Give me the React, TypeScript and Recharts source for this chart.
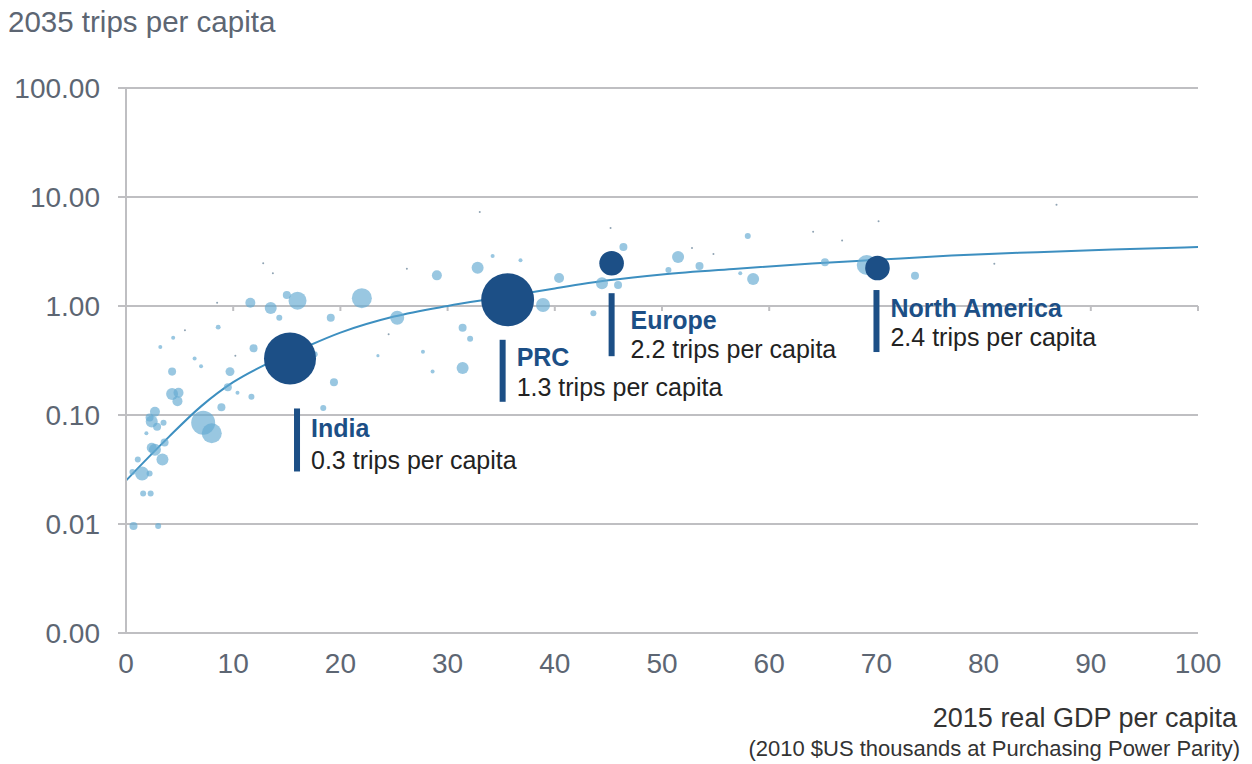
import React from 'react';
import { ComposedChart, Scatter, Line, XAxis, YAxis, ZAxis, CartesianGrid, ReferenceLine } from 'recharts';

const FONT = '"Liberation Sans", Arial, Helvetica, sans-serif';
const DARK = '#1c4f86';
const LIGHT = '#64aad1';
const CURVE = '#3d8fc0';
const GRID = '#bfbfc2';
const TICK = '#5d6673';

const xTicks = [0, 10, 20, 30, 40, 50, 60, 70, 80, 90, 100];
const yTicks = [0.001, 0.01, 0.1, 1, 10, 100];

// z ~ population weight (bubble area)
const countries = [
  { x: 11.6, y: 1.07, z: 50 }, { x: 13.5, y: 0.96, z: 72 }, { x: 15.0, y: 1.26, z: 32 },
  { x: 16.0, y: 1.12, z: 162 }, { x: 14.3, y: 0.78, z: 18 }, { x: 11.9, y: 0.41, z: 32 },
  { x: 9.7, y: 0.25, z: 40 }, { x: 9.5, y: 0.18, z: 32 }, { x: 4.3, y: 0.25, z: 32 },
  { x: 4.3, y: 0.156, z: 72 }, { x: 4.9, y: 0.16, z: 50 }, { x: 4.8, y: 0.134, z: 50 },
  { x: 11.7, y: 0.147, z: 18 }, { x: 10.4, y: 0.16, z: 8 }, { x: 8.9, y: 0.118, z: 32 },
  { x: 7.2, y: 0.085, z: 288 }, { x: 8.0, y: 0.068, z: 200 }, { x: 2.4, y: 0.087, z: 72 },
  { x: 2.7, y: 0.107, z: 50 }, { x: 2.2, y: 0.095, z: 32 }, { x: 2.9, y: 0.078, z: 32 },
  { x: 3.5, y: 0.085, z: 18 }, { x: 2.4, y: 0.05, z: 50 }, { x: 3.6, y: 0.056, z: 32 },
  { x: 2.7, y: 0.048, z: 72 }, { x: 3.4, y: 0.039, z: 72 }, { x: 1.1, y: 0.039, z: 18 },
  { x: 1.5, y: 0.029, z: 98 }, { x: 0.6, y: 0.03, z: 18 }, { x: 2.2, y: 0.029, z: 18 },
  { x: 1.6, y: 0.019, z: 18 }, { x: 2.3, y: 0.019, z: 18 }, { x: 0.7, y: 0.0096, z: 32 },
  { x: 3.0, y: 0.0096, z: 18 }, { x: 1.9, y: 0.068, z: 8 }, { x: 22.0, y: 1.18, z: 200 },
  { x: 19.1, y: 0.78, z: 32 }, { x: 25.3, y: 0.78, z: 98 }, { x: 29.0, y: 1.91, z: 50 },
  { x: 32.8, y: 2.24, z: 72 }, { x: 31.4, y: 0.63, z: 32 }, { x: 32.1, y: 0.5, z: 18 },
  { x: 31.4, y: 0.27, z: 72 }, { x: 19.4, y: 0.2, z: 32 }, { x: 17.6, y: 0.36, z: 18 },
  { x: 18.4, y: 0.116, z: 18 }, { x: 38.9, y: 1.02, z: 98 }, { x: 40.4, y: 1.81, z: 50 },
  { x: 44.4, y: 1.62, z: 72 }, { x: 45.9, y: 1.56, z: 32 }, { x: 46.4, y: 3.47, z: 32 },
  { x: 51.5, y: 2.82, z: 72 }, { x: 53.5, y: 2.33, z: 32 }, { x: 50.6, y: 2.14, z: 18 },
  { x: 58.5, y: 1.77, z: 72 }, { x: 58.0, y: 4.39, z: 18 }, { x: 43.6, y: 0.86, z: 18 },
  { x: 65.2, y: 2.52, z: 32 }, { x: 69.1, y: 2.38, z: 200 }, { x: 73.6, y: 1.89, z: 32 },
  { x: 3.2, y: 0.42, z: 8 }, { x: 4.4, y: 0.51, z: 8 }, { x: 6.4, y: 0.33, z: 8 },
  { x: 7.0, y: 0.28, z: 8 }, { x: 8.6, y: 0.64, z: 12 }, { x: 57.3, y: 2.0, z: 8 },
  { x: 27.7, y: 0.38, z: 8 }, { x: 28.6, y: 0.25, z: 8 }, { x: 23.5, y: 0.35, z: 5 },
  { x: 34.2, y: 2.88, z: 8 }, { x: 36.8, y: 2.63, z: 8 },
];

const tinyCountries = [
  { x: 12.8, y: 2.47, z: 2 }, { x: 13.7, y: 2.0, z: 2 }, { x: 8.5, y: 1.07, z: 2 },
  { x: 33.0, y: 7.3, z: 2 }, { x: 45.2, y: 5.2, z: 2 }, { x: 54.8, y: 3.0, z: 2 },
  { x: 52.8, y: 3.4, z: 2 }, { x: 70.2, y: 6.0, z: 2 }, { x: 66.8, y: 4.0, z: 2 },
  { x: 64.1, y: 4.8, z: 2 }, { x: 86.8, y: 8.5, z: 2 }, { x: 26.2, y: 2.2, z: 2 },
  { x: 81.0, y: 2.44, z: 2 }, { x: 10.2, y: 0.35, z: 2 }, { x: 5.5, y: 0.6, z: 2 },
  { x: 24.5, y: 0.55, z: 2 }, { x: 36.0, y: 0.7, z: 2 },
];

const regions = [
  { name: 'India', x: 15.3, y: 0.33, z: 1352, trips: 0.3 },
  { name: 'PRC', x: 35.6, y: 1.14, z: 1400, trips: 1.3 },
  { name: 'Europe', x: 45.3, y: 2.47, z: 302, trips: 2.2 },
  { name: 'North America', x: 70.1, y: 2.23, z: 302, trips: 2.4 },
];

const trendLine = [
  { x: 0, y: 0.025 }, { x: 2, y: 0.04 }, { x: 4, y: 0.063 }, { x: 7, y: 0.12 },
  { x: 10, y: 0.2 }, { x: 13, y: 0.29 }, { x: 16, y: 0.39 }, { x: 20, y: 0.57 },
  { x: 25, y: 0.8 }, { x: 30, y: 1.0 }, { x: 35, y: 1.2 }, { x: 40, y: 1.45 },
  { x: 45, y: 1.72 }, { x: 50, y: 1.95 }, { x: 57, y: 2.2 }, { x: 64, y: 2.45 },
  { x: 70, y: 2.65 }, { x: 77, y: 2.9 }, { x: 85, y: 3.12 }, { x: 92, y: 3.3 },
  { x: 100, y: 3.47 },
];

// label placement relative to bubble centre (px)
const labelLayout: Record<string, { bar: number; top: number; bottom: number; text: number; b1: number; b2: number }> = {
  India: { bar: 7, top: 50, bottom: 113, text: 21, b1: 79, b2: 111 },
  PRC: { bar: -5, top: 40, bottom: 102, text: 9, b1: 66, b2: 96 },
  Europe: { bar: 0, top: 30, bottom: 93, text: 19, b1: 66, b2: 95 },
  'North America': { bar: -1, top: 22, bottom: 84, text: 13, b1: 49, b2: 78 },
};

const RegionBubble = (props: any) => {
  const { cx, cy, size, payload } = props;
  const r = size ? Math.sqrt(size / Math.PI) : 12;
  const o = labelLayout[payload.name];
  return (
    <g>
      <circle cx={cx} cy={cy} r={r} fill={DARK} />
      <rect x={cx + o.bar - 3} y={cy + o.top} width={6} height={o.bottom - o.top} fill={DARK} />
      <text x={cx + o.text} y={cy + o.b1} fontSize={25} fontWeight="bold" fill={DARK} fontFamily={FONT}>
        {payload.name}
      </text>
      <text x={cx + o.text} y={cy + o.b2} fontSize={25} fill="#222" fontFamily={FONT}>
        {`${payload.trips.toFixed(1)} trips per capita`}
      </text>
    </g>
  );
};

const App: React.FC = () => {
  return (
    <div style={{ position: 'absolute', left: 0, top: 0, width: 1252, height: 764, background: '#fff', fontFamily: FONT }}>
      <div style={{ position: 'absolute', left: 8, top: 5, fontSize: 29.5, color: TICK }}>2035 trips per capita</div>
      <div style={{ position: 'absolute', right: 15, top: 703, fontSize: 27, color: '#333' }}>2015 real GDP per capita</div>
      <div style={{ position: 'absolute', right: 12, top: 736, fontSize: 22, color: '#333' }}>
        (2010 $US thousands at Purchasing Power Parity)
      </div>
      <ComposedChart width={1252} height={764} margin={{ top: 88, right: 54, left: 16, bottom: 91 }}>
        <CartesianGrid horizontal vertical={false} stroke={GRID} strokeWidth={2} />
        <XAxis
          type="number"
          dataKey="x"
          domain={[0, 100]}
          ticks={xTicks}
          height={40}
          tickLine={false}
          tickSize={0}
          tickMargin={20}
          axisLine={{ stroke: GRID, strokeWidth: 2 }}
          tick={{ fontSize: 28, fill: TICK, fontFamily: FONT }}
        />
        <YAxis
          type="number"
          dataKey="y"
          scale="log"
          domain={[0.001, 100]}
          ticks={yTicks}
          allowDataOverflow
          width={110}
          tickSize={8}
          tickMargin={18}
          tickLine={{ stroke: GRID, strokeWidth: 2 }}
          axisLine={{ stroke: GRID, strokeWidth: 2 }}
          tickFormatter={(v: number) => v.toFixed(2)}
          tick={{ fontSize: 28, fill: TICK, fontFamily: FONT }}
        />
        <ZAxis type="number" dataKey="z" domain={[0, 1400]} range={[0, 2200]} />
        {xTicks.slice(1).map((t) => (
          <ReferenceLine
            key={t}
            segment={[{ x: t, y: 1 }, { x: t, y: 0.9 }]}
            stroke={GRID}
            strokeWidth={2}
          />
        ))}
        <Scatter data={countries} fill={LIGHT} fillOpacity={0.66} isAnimationActive={false} />
        <Scatter data={tinyCountries} fill="#8fa3b3" isAnimationActive={false} />
        <Line
          data={trendLine}
          dataKey="y"
          type="monotone"
          stroke={CURVE}
          strokeWidth={2}
          dot={false}
          isAnimationActive={false}
        />
        <Scatter data={regions} shape={RegionBubble} isAnimationActive={false} />
      </ComposedChart>
    </div>
  );
};

export default App;
